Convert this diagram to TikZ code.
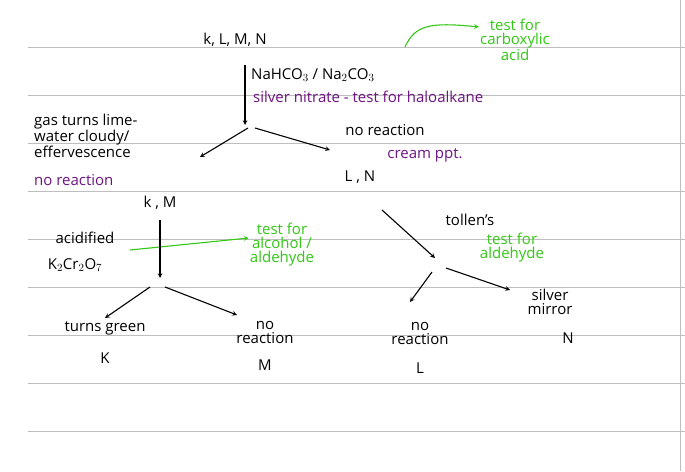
\documentclass[tikz,border=0pt]{standalone}
\usepackage{fontspec}
\setmainfont{Open Sans}
\definecolor{gr}{RGB}{50,200,20}
\definecolor{pu}{RGB}{110,20,130}
\definecolor{ln}{RGB}{190,190,190}
\begin{document}
\begin{tikzpicture}[x=1pt,y=-1pt,
  t/.style={font=\fontsize{15}{14}\selectfont,inner sep=1pt,align=center},
  tl/.style={t,align=left},
  g/.style={text=gr},p/.style={text=pu},
  ar/.style={->,line width=1.1pt,>=stealth},
  ga/.style={ar,draw=gr}]
\useasboundingbox (0,0) rectangle (685,471);
\fill[white] (0,0) rectangle (685,471);
\foreach \y in {47,95,143,191,239,287,335,383,431}
  \draw[ln,line width=0.6pt] (28,\y) -- (685,\y);
\draw[ln] (680,0) -- (680,471);
\node[t] (klmn) at (235,40) {k, L, M, N};
\node[t,g] (carb) at (515,40) {test for\\carboxylic\\acid};
\coordinate (c1) at (405,47);
\draw[ga] (c1) .. controls (415,25) and (430,22) .. (carb.west|-0,27);
\coordinate (v1) at (245,65);
\coordinate (v2) at (245,125);
\draw[ar] (v1) -- (v2);
\node[t,anchor=west] (reag) at (250,75) {NaHCO$_3$ / Na$_2$CO$_3$};
\node[t,p,anchor=west] (silv) at (252,97) {silver nitrate - test for haloalkane};
\coordinate (s1) at (255,128); \coordinate (s2) at (248,128);
\node[tl,anchor=north west] (gas) at (33,113) {gas turns lime-\\water cloudy/\\effervescence};
\node[t,p,anchor=west] (nr1) at (33,180) {no reaction};
\node[t] (nr2) at (385,130) {no reaction};
\node[t,p] (cream) at (425,155) {cream ppt.};
\draw[ar] (s1) -- (330,150);
\draw[ar] (s2) -- (200,157);
\node[t] (km) at (160,203) {k , M};
\node[t] (ln) at (360,177) {L , N};
\node[t] (acid) at (85,238) {acidified};
\node[t] (kcr) at (75,265) {K$_2$Cr$_2$O$_7$};
\node[t,g] (alc) at (282,245) {test for\\alcohol /\\aldehyde};
\draw[ga] (130,250) -- (alc.west|-0,238);
\draw[ar] (160,220) -- (160,278);
\draw[ar] (150,287) -- (105,318);
\draw[ar] (165,287) -- (237,315);
\node[t] (tg) at (105,328) {turns green};
\node[t] (K) at (105,358) {K};
\node[t] (nr3) at (265,332) {no\\reaction};
\node[t] (M) at (265,365) {M};
\draw[ar] (382,210) -- (435,258);
\node[t] (tol) at (470,220) {tollen's};
\node[t,g] (ald) at (512,248) {test for\\aldehyde};
\draw[ar] (432,272) -- (410,302);
\draw[ar] (446,268) -- (510,290);
\node[t] (nr4) at (420,333) {no\\reaction};
\node[t] (L) at (420,368) {L};
\node[t] (sm) at (550,302) {silver\\mirror};
\node[t] (N) at (568,338) {N};
\end{tikzpicture}
\end{document}
